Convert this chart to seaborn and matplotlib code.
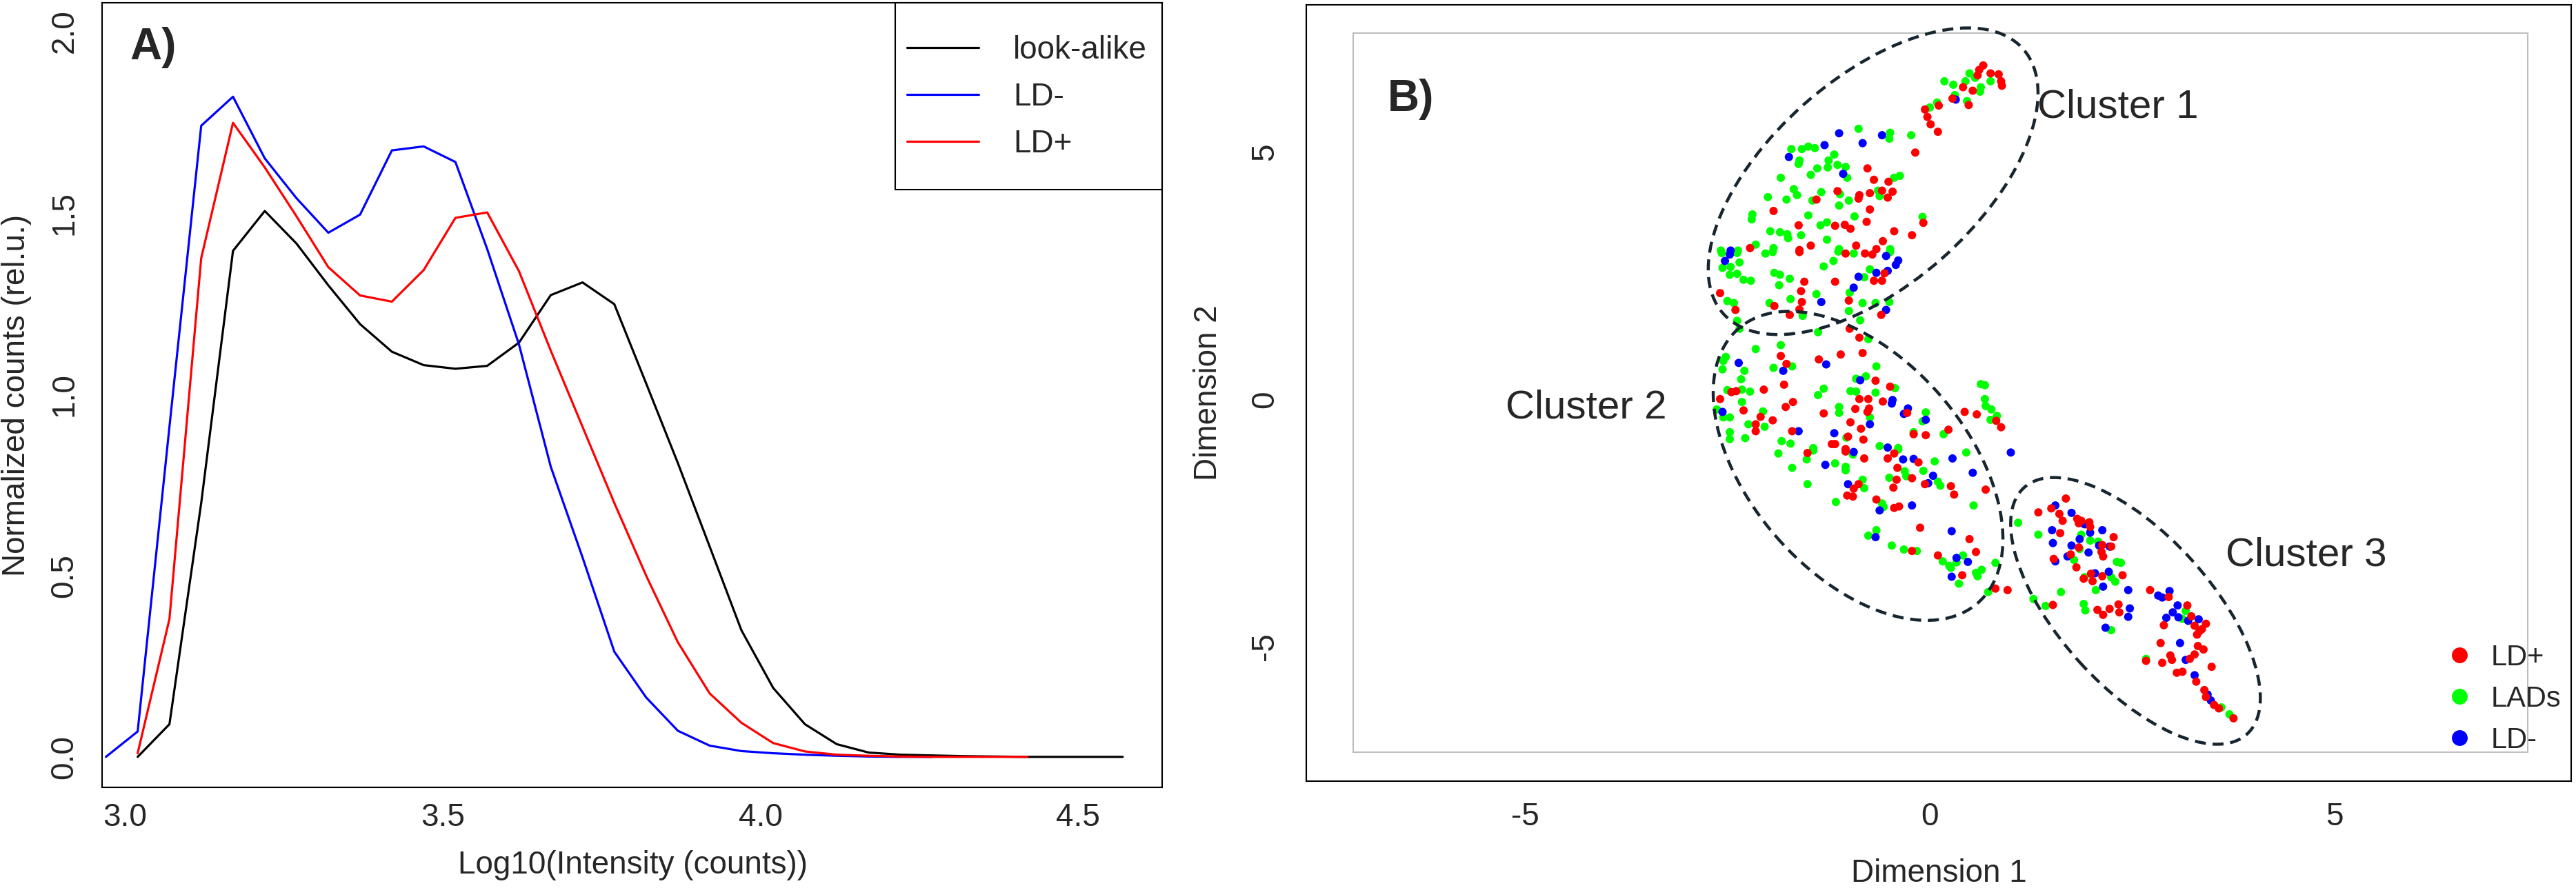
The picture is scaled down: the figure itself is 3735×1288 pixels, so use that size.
import numpy as np
import pandas as pd
import matplotlib
matplotlib.use("Agg")
import matplotlib.pyplot as plt
import matplotlib.transforms as mtransforms
from matplotlib.patches import Ellipse, Rectangle
import seaborn as sns

# ---------------- Panel A data ----------------
log_intensity_bins = [2.97, 3.02, 3.07, 3.12, 3.17, 3.22, 3.27, 3.32, 3.37, 3.42, 3.47,
                      3.52, 3.57, 3.62, 3.67, 3.72, 3.77, 3.82, 3.87, 3.92, 3.97, 4.02,
                      4.07, 4.12, 4.17, 4.22, 4.27, 4.32, 4.37, 4.42, 4.47, 4.52, 4.57]
lookalike_counts = [0.0, 0.09, 0.70, 1.395, 1.505, 1.415, 1.30, 1.193, 1.117, 1.08,
                    1.07, 1.078, 1.142, 1.273, 1.308, 1.248, 1.03, 0.81, 0.58, 0.349,
                    0.19, 0.09, 0.035, 0.012, 0.006, 0.004, 0.002, 0.001, 0.0, 0.0, 0.0, 0.0]
ld_minus_counts = [0.0, 0.07, 0.91, 1.74, 1.82, 1.65, 1.54, 1.445, 1.495, 1.672,
                   1.683, 1.64, 1.40, 1.137, 0.80, 0.55, 0.29, 0.164, 0.072, 0.031,
                   0.016, 0.010, 0.006, 0.003, 0.001, 0.0, 0.0]
ld_plus_counts = [0.01, 0.38, 1.375, 1.748, 1.625, 1.49, 1.35, 1.272, 1.255, 1.342,
                  1.486, 1.501, 1.339, 1.12, 0.91, 0.70, 0.50, 0.316, 0.175, 0.094,
                  0.038, 0.015, 0.006, 0.003, 0.001, 0.0, 0.0, 0.0, 0.0]
lineA_labels = ["look-alike", "LD-", "LD+"]
lineA_colors = ["#000000", "#0000FF", "#FF0000"]

# ---------------- Panel B data (Dimension 1, Dimension 2) ----------------
ld_plus_points = [
    (0.66, 6.74), (0.61, 6.65), (0.75, 6.58), (0.85, 6.56), (0.88, 6.42), (0.89, 6.33), (0.41, 6.30),
    (0.53, 6.23), (0.59, 6.54), (0.28, 6.07), (0.48, 5.94), (0.11, 5.93), (-0.06, 5.85), (-0.03, 5.70),
    (0.01, 5.55), (0.10, 5.40), (-0.18, 4.98), (-0.77, 4.66), (-0.69, 4.43), (-0.51, 4.39), (-1.14, 4.20),
    (-1.40, 4.03), (-0.87, 4.12), (-0.88, 4.05), (-0.74, 4.16), (-0.59, 4.21), (-0.52, 4.07), (-0.46, 4.19),
    (-1.93, 3.80), (-0.74, 3.83), (-0.78, 3.58), (-1.62, 3.51), (-1.17, 3.50), (-1.05, 3.52), (-0.98, 3.44),
    (-0.08, 3.56), (-0.44, 3.39), (-0.22, 3.31), (-0.58, 3.19), (-1.47, 3.10), (-0.91, 3.10), (-2.22, 3.05),
    (-1.61, 3.01), (-0.66, 3.03),
    (-1.61, 2.97), (-1.04, 2.94), (-0.80, 2.94), (-0.71, 2.92), (-1.55, 2.37), (-1.17, 2.37), (-1.59, 2.18),
    (-1.58, 1.96), (-1.61, 1.81), (-1.92, 1.88), (-1.73, 1.70), (-0.56, 2.54), (-0.69, 2.39), (-0.59, 2.39),
    (-1.00, 1.99), (-0.60, 1.70), (-2.59, 2.14), (-2.40, 1.80), (-0.99, 1.42), (-0.87, 1.24), (-1.84, 0.87),
    (-1.77, 0.71), (-1.10, 0.90), (-0.83, 0.93), (-1.37, 0.80), (-0.67, 0.37), (-0.49, 0.25), (-0.87, 0.00),
    (-0.76, 0.00), (-0.58, -0.05), (-2.45, 0.14), (-2.39, 0.16), (-2.05, 0.19), (-1.80, 0.29), (-1.69, -0.06),
    (-1.78, -0.16), (-2.59, 0.00), (-2.30, -0.23), (-2.09, -0.36), (-1.94, -0.43), (-2.15, -0.51),
    (-2.15, -0.65), (-1.31, -0.29), (-0.92, -0.20), (-0.75, -0.19), (-0.77, -0.26), (-0.98, -0.47),
    (-0.85, -0.60), (-0.28, -0.28), (0.43, -0.26), (0.58, -0.31), (0.82, -0.44), (0.88, -0.57),
    (0.23, -0.62), (-0.20, -0.71), (-0.05, -0.73), (-1.70, -0.65), (-1.01, -0.76), (-0.82, -0.82),
    (-1.21, -0.91), (-1.17, -0.91), (-1.04, -1.01),
    (-1.51, -1.09), (-1.04, -1.06), (-0.81, -1.20), (-0.52, -1.20), (-0.44, -1.10), (-0.14, -1.28),
    (-0.40, -1.39), (-0.22, -1.60), (-0.06, -1.72), (0.26, -1.76), (0.30, -1.93), (0.69, -1.83),
    (-0.94, -1.81), (-0.88, -1.72), (-1.02, -1.95), (-0.95, -1.97), (-0.41, -1.63), (-0.45, -1.79),
    (-0.66, -2.03), (-0.44, -2.20), (-0.38, -2.17), (-0.12, -2.60), (0.49, -2.83), (-0.22, -3.07),
    (0.10, -3.16), (0.57, -3.09), (0.40, -3.56), (0.81, -3.83), (0.96, -3.86),
    (1.68, -2.01), (1.34, -2.29), (1.50, -2.21), (1.60, -2.32), (1.64, -2.46), (1.82, -2.42), (1.87, -2.46),
    (1.84, -2.51), (1.97, -2.49), (1.98, -2.58), (1.61, -2.71), (1.53, -3.23), (1.84, -3.00), (1.74, -3.14),
    (1.81, -3.40), (2.27, -2.79), (2.24, -2.98), (2.13, -2.95), (2.12, -3.09), (2.14, -3.18), (1.90, -3.63),
    (1.99, -3.53), (2.01, -3.68), (2.13, -3.58), (2.38, -3.56), (1.52, -4.16), (2.07, -4.26), (2.14, -4.36),
    (2.22, -4.24), (2.33, -4.15), (2.34, -4.31), (2.72, -3.86), (2.95, -4.00), (3.18, -4.17), (2.89, -4.57),
    (3.23, -4.39), (3.27, -4.58), (3.33, -4.69), (3.41, -4.54), (3.30, -4.76), (3.36, -4.65), (2.85, -4.93),
    (3.31, -4.99), (3.38, -5.06), (3.27, -5.16), (3.21, -5.25), (2.97, -5.18), (2.99, -5.27), (2.67, -5.29),
    (2.87, -5.33), (3.48, -5.41), (3.05, -5.53), (3.12, -5.51), (3.29, -5.71), (3.39, -5.88), (3.41, -6.02),
    (3.51, -6.18), (3.57, -6.25), (3.75, -6.45),
]
lads_points = [
    (0.49, 6.58), (0.56, 6.49), (0.18, 6.42), (0.29, 6.35), (0.44, 6.42), (0.63, 6.30), (0.62, 6.21),
    (0.75, 6.42), (0.31, 6.14), (0.46, 6.02), (0.09, 5.99), (0.00, 5.89), (-0.23, 5.33), (-0.88, 5.46),
    (-0.49, 5.38), (-0.50, 5.26), (-1.71, 5.05), (-1.58, 5.05), (-1.50, 5.10), (-1.42, 5.07), (-1.61, 4.82),
    (-1.62, 4.75), (-1.18, 4.94), (-1.25, 4.82), (-1.26, 4.68), (-1.14, 4.73), (-1.39, 4.66), (-1.47, 4.53),
    (-1.04, 4.69), (-1.02, 4.47), (-1.84, 4.47), (-0.44, 4.47), (-0.37, 4.51), (-1.68, 4.24), (-1.64, 4.12),
    (-2.00, 4.08), (-1.77, 4.03), (-1.34, 4.18), (-1.11, 4.14), (-1.45, 4.01), (-0.64, 4.21), (-0.62, 4.10),
    (-1.00, 4.01), (-1.12, 3.91), (-2.19, 3.73), (-2.20, 3.63), (-1.50, 3.71), (-0.93, 3.69), (-1.27, 3.57),
    (-1.35, 3.51), (-0.09, 3.68), (-1.97, 3.39), (-1.85, 3.37), (-1.76, 3.33), (-1.75, 3.25), (-1.59, 3.31),
    (-1.27, 3.22), (-2.15, 3.12), (-1.93, 3.05), (-2.58, 3.00), (-2.37, 3.00), (-1.12, 3.03), (-0.49, 3.03),
    (-2.57, 2.95), (-2.38, 2.95), (-2.35, 2.76), (-2.03, 2.94), (-1.94, 2.97), (-1.13, 2.98), (-0.94, 2.94),
    (-0.49, 2.97), (-2.56, 2.65), (-2.46, 2.67), (-2.47, 2.51), (-2.38, 2.53), (-2.30, 2.41), (-2.21, 2.39),
    (-1.92, 2.55), (-1.85, 2.51), (-1.86, 2.30), (-1.73, 2.43), (-1.31, 2.68), (-1.19, 2.79), (-1.40, 2.12),
    (-1.72, 2.02), (-1.98, 1.94), (-1.57, 1.68), (-0.81, 2.46), (-0.74, 2.62), (-0.99, 2.15), (-0.67, 1.94),
    (-0.50, 1.96), (-0.83, 1.94), (-1.00, 1.78), (-0.86, 1.59), (-2.50, 1.98), (-2.42, 1.94), (-2.38, 1.58),
    (-2.35, 1.42), (-1.38, 1.35), (-0.76, 1.21), (-1.84, 1.09), (-2.15, 1.01), (-1.70, 0.66), (-1.93, 0.63),
    (-0.66, 0.66), (-2.52, 0.85), (-2.55, 0.77), (-2.56, 0.60), (-2.29, 0.57), (-2.33, 0.40), (-0.91, 0.41),
    (-0.79, 0.46), (-0.43, 0.22), (-1.31, 0.21), (-1.38, 0.08), (-0.98, 0.16), (-0.91, 0.15), (-0.67, 0.13),
    (-2.50, 0.18), (-2.32, 0.19), (-2.22, 0.15), (-2.32, -0.06), (-2.55, -0.37), (-2.47, -0.37),
    (-2.63, -0.21), (-2.06, -0.25), (-2.24, -0.51), (-2.04, -0.56), (-1.12, -0.16), (-1.12, -0.28),
    (-0.74, -0.37), (-0.05, -0.27), (-0.09, -0.45), (0.63, 0.30), (0.68, 0.28), (0.68, 0.00), (0.69, -0.14),
    (0.76, -0.21), (0.83, -0.34), (0.75, -0.42), (0.17, -0.71), (-0.20, -0.67), (-1.03, -0.78),
    (-2.47, -0.67), (-2.47, -0.81), (-2.28, -0.79), (-1.83, -0.85), (-1.72, -0.90), (-1.44, -0.99),
    (-0.62, -0.95), (-0.39, -0.99),
    (-1.87, -1.10), (-1.44, -1.04), (-1.52, -1.22), (-0.95, -1.12), (-0.39, -1.02), (0.06, -1.26),
    (0.45, -1.08), (-1.70, -1.39), (-1.17, -1.30), (-1.04, -1.37), (-1.04, -1.44), (-0.31, -1.46),
    (-0.29, -1.56), (-0.08, -1.45), (0.10, -1.67), (0.13, -1.75), (-1.51, -1.72), (-0.83, -1.63),
    (-0.81, -1.80), (-1.16, -2.08), (-0.50, -1.59), (-0.59, -2.11), (-0.57, -2.18), (0.54, -2.15),
    (-0.66, -2.65), (-0.76, -2.76), (-0.47, -2.96), (-0.32, -3.04), (-0.16, -3.07), (0.16, -3.28),
    (0.41, -3.16), (0.24, -3.37), (0.33, -3.30), (0.26, -3.41), (0.36, -3.73), (0.57, -3.51), (0.64, -3.45),
    (0.59, -3.58), (0.81, -3.31), (0.72, -3.90),
    (1.09, -2.50), (1.34, -2.74), (1.85, -3.03), (1.87, -2.74), (1.98, -2.86), (2.08, -2.88), (1.78, -3.25),
    (2.31, -3.29), (2.36, -3.31), (1.91, -3.60), (2.24, -3.60), (2.29, -3.69), (2.05, -3.86), (1.62, -3.90),
    (1.28, -4.04), (1.43, -4.18), (1.90, -4.14), (1.92, -4.27), (2.24, -4.67), (3.16, -4.28), (3.12, -4.44),
    (2.67, -5.25), (3.60, -6.23), (3.70, -6.37),
]
ld_minus_points = [
    (0.32, 6.05), (-1.12, 5.37), (-1.30, 5.13), (-0.83, 5.17), (-0.59, 5.33), (-1.74, 4.89), (-1.07, 4.55),
    (-2.46, 3.00), (-2.47, 2.92), (-2.53, 2.79), (-0.54, 2.89), (-0.39, 2.80), (-0.42, 2.71), (-1.34, 1.96),
    (-0.88, 2.47), (-0.66, 2.55), (-0.52, 2.59), (-0.94, 2.25), (-0.54, 1.80), (-1.81, 0.57), (-1.28, 0.70),
    (-2.36, 0.73), (-0.86, 0.38), (-0.46, -0.02), (-0.47, -0.09), (-2.56, -0.26), (-0.74, -0.51),
    (-0.27, -0.19), (-0.32, -0.30), (-0.05, -0.42), (-1.62, -0.65), (-1.18, -0.69), (-0.52, -0.98),
    (-0.94, -1.07), (-0.33, -1.22), (-0.20, -1.21), (0.28, -1.20), (1.00, -1.08), (-1.29, -1.33),
    (0.04, -1.55), (-0.02, -1.70), (0.53, -1.49), (-1.01, -1.72), (-0.62, -2.25), (-0.22, -2.15),
    (-0.67, -2.79), (0.27, -2.67), (0.33, -3.21), (0.47, -3.29), (0.27, -3.59),
    (1.55, -2.15), (1.75, -2.30), (1.91, -2.53), (1.98, -2.70), (1.51, -2.65), (1.52, -2.91), (1.55, -3.28),
    (1.75, -2.96), (1.85, -2.83), (1.96, -3.10), (1.70, -3.18), (2.13, -2.65), (2.22, -2.98), (2.09, -2.96),
    (2.04, -3.52), (2.21, -3.49), (2.14, -3.79), (2.45, -3.86), (2.47, -4.23), (2.45, -4.40), (2.17, -4.62),
    (2.82, -3.97), (2.87, -4.01), (2.96, -3.88), (3.06, -4.17), (3.00, -4.31), (2.92, -4.42), (3.07, -4.41),
    (3.19, -4.48), (3.32, -4.45), (3.09, -4.93), (3.16, -5.27), (3.27, -5.58), (3.43, -5.97), (3.47, -6.09),
]
groupB_order = ["LD+", "LADs", "LD-"]
groupB_colors = {"LD+": "#FF0000", "LADs": "#00FF00", "LD-": "#0000FF"}
cluster_labels = ["Cluster 1", "Cluster 2", "Cluster 3"]

# ---------------- Figure ----------------
sns.set_style("white")
plt.rcParams["font.family"] = ["Liberation Sans", "DejaVu Sans"]
W, H = 3735, 1288
fig = plt.figure(figsize=(W / 100, H / 100), dpi=100)

def fx(px):
    return px / W

def fy(py):
    return 1 - py / H

# Panel A
axA = fig.add_axes([fx(148), fy(1142), fx(1685) - fx(148), fy(4) - fy(1142)])
dfA = pd.concat([
    pd.DataFrame({"x": log_intensity_bins[1:1 + len(lookalike_counts)], "y": lookalike_counts, "grp": "look-alike"}),
    pd.DataFrame({"x": log_intensity_bins[0:len(ld_minus_counts)], "y": ld_minus_counts, "grp": "LD-"}),
    pd.DataFrame({"x": log_intensity_bins[1:1 + len(ld_plus_counts)], "y": ld_plus_counts, "grp": "LD+"}),
], ignore_index=True)
sns.lineplot(data=dfA, x="x", y="y", hue="grp", hue_order=lineA_labels,
             palette=dict(zip(lineA_labels, lineA_colors)), linewidth=2.3,
             estimator=None, sort=False, ax=axA)
axA.set_xlim(2.964, 4.632)
axA.set_ylim(-0.084, 2.079)
axA.set_xticks([3.0, 3.5, 4.0, 4.5])
axA.set_xticklabels(["3.0", "3.5", "4.0", "4.5"])
axA.set_yticks([0.0, 0.5, 1.0, 1.5, 2.0])
axA.set_yticklabels(["0.0", "0.5", "1.0", "1.5", "2.0"])
axA.set_xlabel("")
axA.set_ylabel("")
axA.tick_params(axis="x", direction="out", length=13.5, width=1.5, labelsize=33, pad=2, color="black")
axA.tick_params(axis="y", direction="out", length=13.5, width=1.5, labelsize=33, pad=10, color="black",
                labelrotation=90)
for lab in axA.get_yticklabels():
    lab.set_va("center")
for sp in axA.spines.values():
    sp.set_visible(True)
    sp.set_color("black")
    sp.set_linewidth(1.5)
handles, labels = axA.get_legend_handles_labels()
for h in handles:
    h.set_linewidth(2.3)
axA.legend(handles, labels, loc="upper left", bbox_to_anchor=(fx(1315), fy(51)),
           bbox_transform=fig.transFigure, frameon=False, fontsize=33, borderpad=0,
           handlelength=2.27, handletextpad=1.09, labelspacing=0.52, borderaxespad=0)
axA.add_patch(Rectangle((0.748, 0.762), 0.252, 0.238, transform=axA.transAxes, fill=False,
                        edgecolor="black", linewidth=1.5, zorder=5, clip_on=False))
axA.text(3.008, 1.955, "A)", fontsize=46, fontweight="bold", ha="left", va="center")
fig.text(fx(917), fy(1255), "Log10(Intensity (counts))", fontsize=33, ha="center", va="center")
fig.text(fx(24), fy(573), "Normalized counts (rel.u.)", fontsize=33, ha="center", va="center", rotation=90)

# Panel B
axB = fig.add_axes([fx(1894), fy(1133), fx(3728) - fx(1894), fy(6.6) - fy(1133)])
dfB = pd.concat([
    pd.DataFrame(lads_points, columns=["d1", "d2"]).assign(g="LADs"),
    pd.DataFrame(ld_minus_points, columns=["d1", "d2"]).assign(g="LD-"),
    pd.DataFrame(ld_plus_points, columns=["d1", "d2"]).assign(g="LD+"),
], ignore_index=True)
sns.scatterplot(data=dfB, x="d1", y="d2", hue="g", hue_order=groupB_order, palette=groupB_colors,
                s=75, linewidth=0, ax=axB, zorder=3)
axB.set_xlim(-7.70, 7.92)
axB.set_ylim(-7.72, 7.97)
axB.set_xticks([-5, 0, 5])
axB.set_xticklabels(["-5", "0", "5"])
axB.set_yticks([-5, 0, 5])
axB.set_yticklabels(["-5", "0", "5"])
axB.set_xlabel("")
axB.set_ylabel("")
axB.tick_params(axis="x", direction="out", length=13.5, width=1.5, labelsize=33, pad=8, color="black")
axB.tick_params(axis="y", direction="out", length=13.5, width=1.5, labelsize=33, pad=14, color="black",
                labelrotation=90)
for lab in axB.get_yticklabels():
    lab.set_va("center")
for sp in axB.spines.values():
    sp.set_visible(True)
    sp.set_color("black")
    sp.set_linewidth(1.5)
axB.add_patch(Rectangle((-7.12, -7.13), 14.5, 14.53, fill=False, edgecolor="#BEBEBE", linewidth=1.5, zorder=1))

# dashed cluster ellipses (sizes in output pixels, centres in data units)
ellipse_specs = [(-0.70, 4.40, 290, 150, 41.4), (-0.886, -1.35, 264, 157, -48.9), (2.54, -4.28, 241, 110, -47.9)]
for cx, cy, a, b, ang in ellipse_specs:
    tr = mtransforms.ScaledTranslation(cx, cy, axB.transData)
    axB.add_patch(Ellipse((0, 0), 2 * a, 2 * b, angle=ang, transform=tr, fill=False,
                          edgecolor="#17252f", linewidth=3.2, linestyle=(0, (3.6, 2.2)), zorder=4))

axB.text(1.33, 5.90, cluster_labels[0], fontsize=42, ha="left", va="center")
axB.text(-5.24, -0.18, cluster_labels[1], fontsize=42, ha="left", va="center")
axB.text(3.65, -3.16, cluster_labels[2], fontsize=42, ha="left", va="center")
axB.text(-6.70, 6.05, "B)", fontsize=46, fontweight="bold", ha="left", va="center")

hB, lB = axB.get_legend_handles_labels()
for h in hB:
    try:
        h.set_markersize(16.5)
    except Exception:
        pass
axB.legend(hB, lB, loc="upper left", bbox_to_anchor=(fx(3545), fy(934)), bbox_transform=fig.transFigure,
           frameon=False, fontsize=30, borderpad=0, handlelength=1.0, handletextpad=0.6,
           labelspacing=0.48, borderaxespad=0)

fig.text(fx(2811), fy(1267), "Dimension 1", fontsize=33, ha="center", va="center")
fig.text(fx(1752), fy(570), "Dimension 2", fontsize=33, ha="center", va="center", rotation=90)

fig.savefig("out.png", dpi=100)
